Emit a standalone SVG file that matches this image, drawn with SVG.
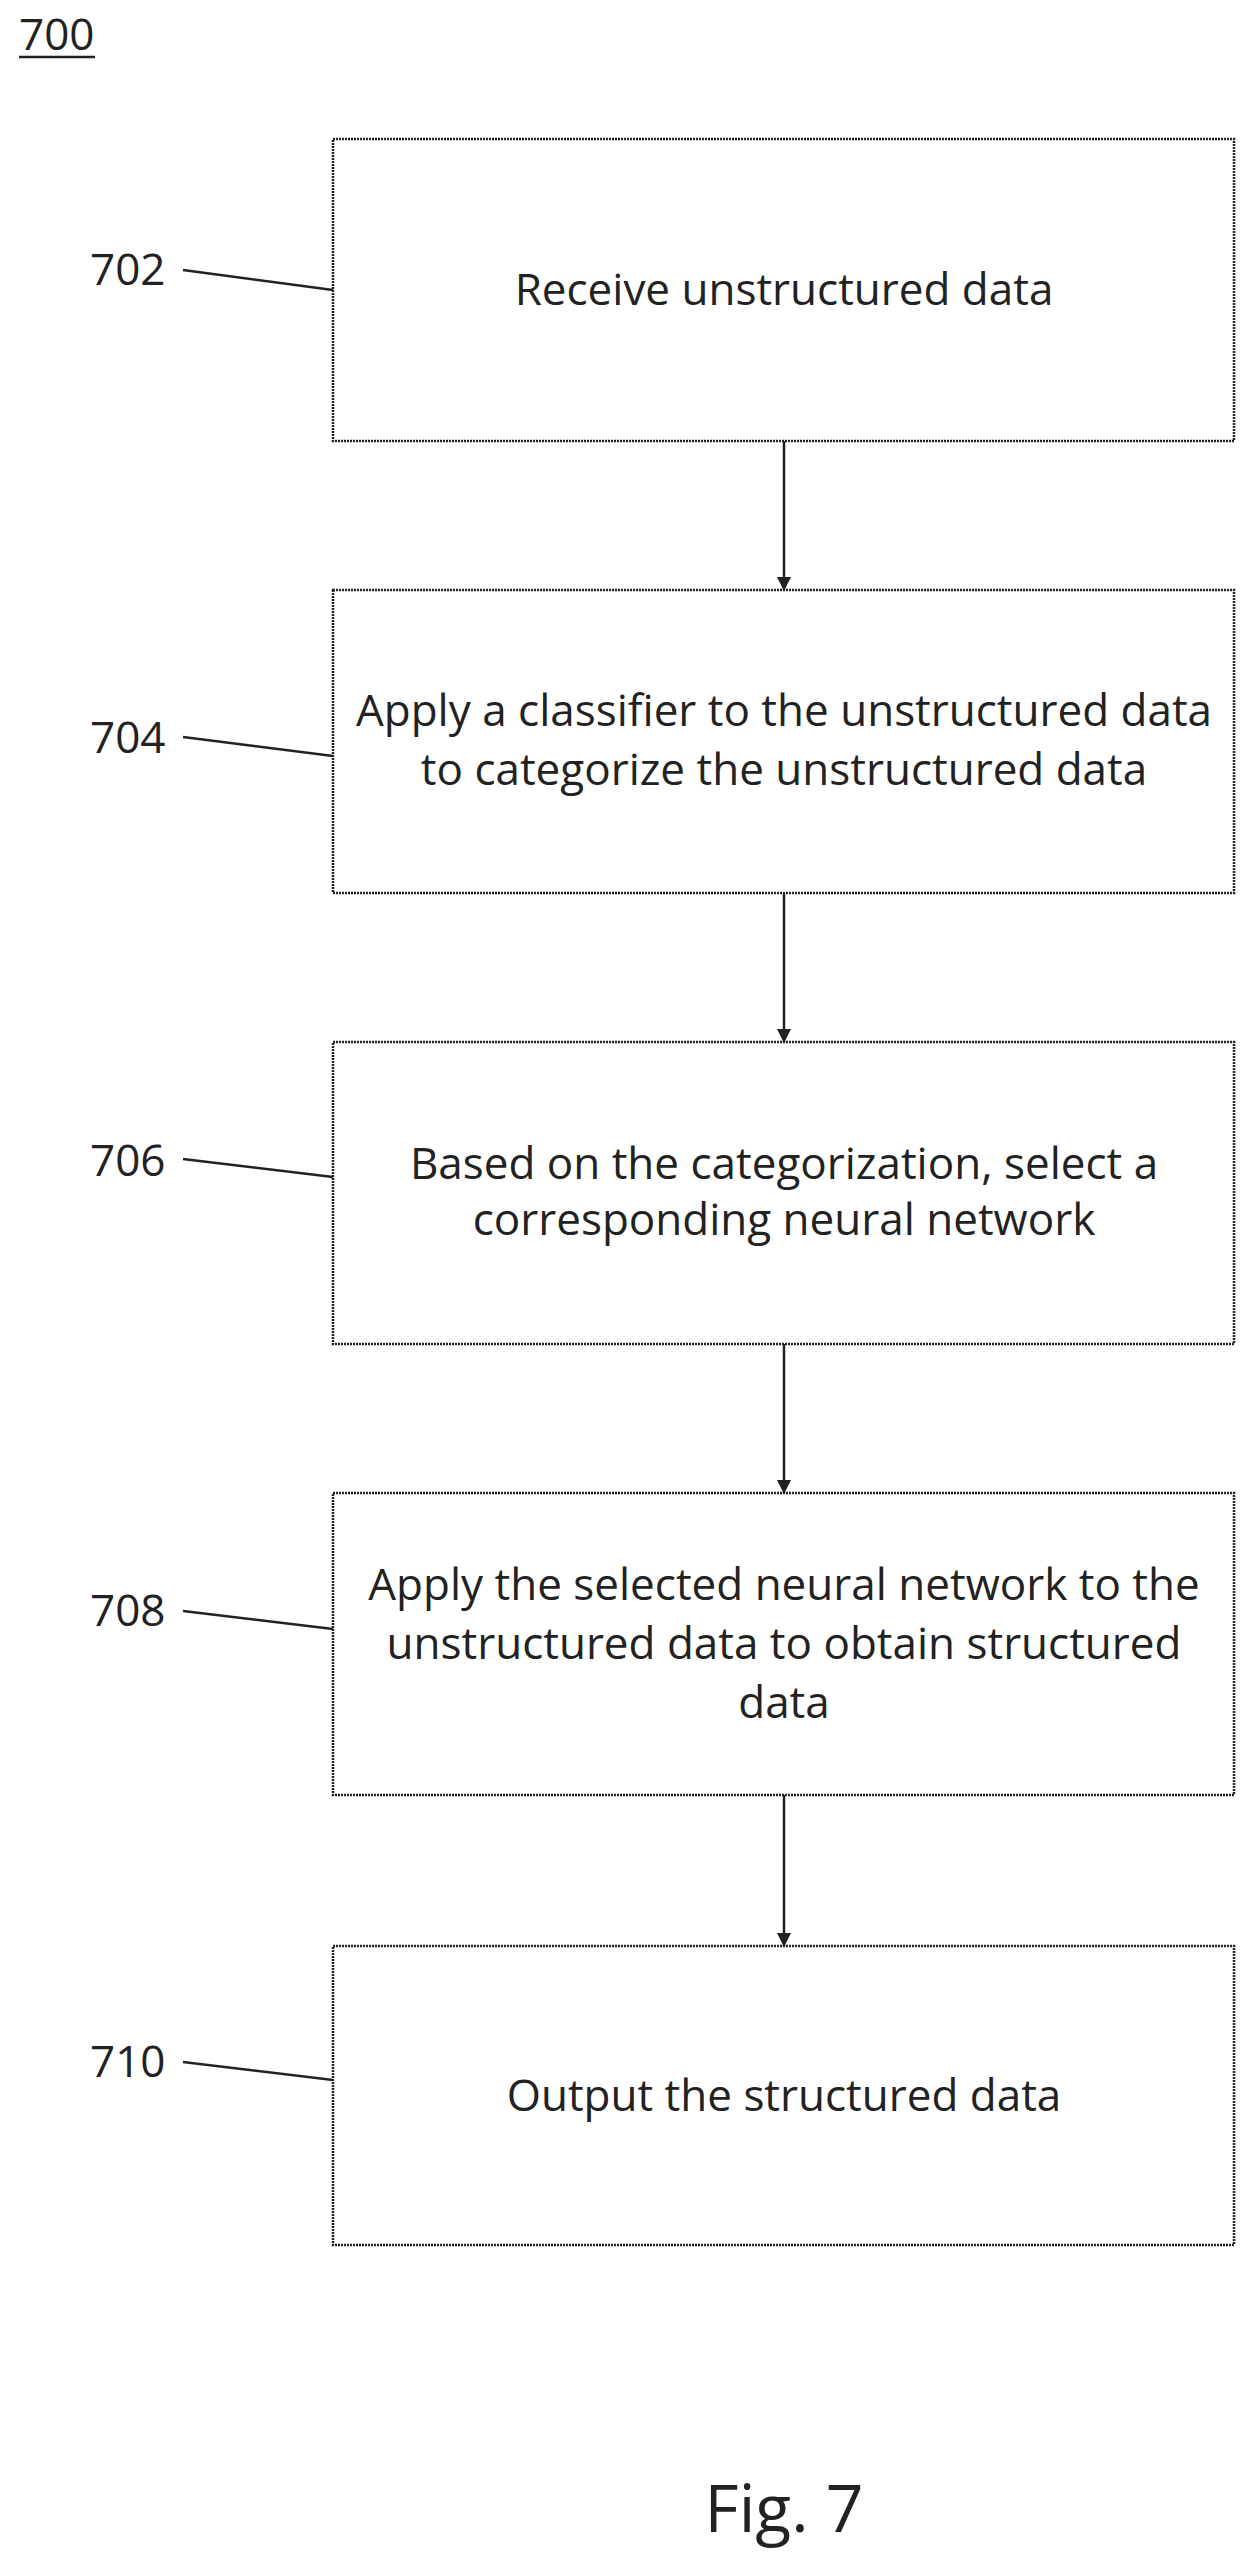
<svg xmlns="http://www.w3.org/2000/svg" width="1255" height="2562" viewBox="0 0 1255 2562">
<style>
.b{fill:none;stroke:#222;stroke-width:2.5;stroke-dasharray:2 1}
.t{font-family:"Open Sans","Liberation Sans",sans-serif;font-size:44px;fill:#222;text-anchor:middle}
.n{font-family:"Open Sans","Liberation Sans",sans-serif;font-size:44px;fill:#222}
.c{stroke:#222;stroke-width:2.5;fill:none}
</style>
<defs><marker id="a" markerWidth="14" markerHeight="14" refX="13" refY="7" orient="auto" markerUnits="userSpaceOnUse" viewBox="0 0 14 14"><path d="M0,0 L14,7 L0,14 z" fill="#222"/></marker></defs>
<rect width="1255" height="2562" fill="#fff"/>
<text class="n" x="19" y="50">700</text>
<line x1="19" y1="57" x2="95" y2="57" class="c" stroke-width="2"/>
<g id="n702"><rect class="b" x="333" y="139" width="901" height="302"/><text class="t" x="784" y="305">Receive unstructured data</text><text class="n" x="90" y="285">702</text></g>
<g id="n704"><rect class="b" x="333" y="590" width="901" height="303"/><text class="t" x="784" y="726">Apply a classifier to the unstructured data</text><text class="t" x="784" y="785">to categorize the unstructured data</text><text class="n" x="90" y="753">704</text></g>
<g id="n706"><rect class="b" x="333" y="1042" width="901" height="302"/><text class="t" x="784" y="1179">Based on the categorization, select a</text><text class="t" x="784" y="1235">corresponding neural network</text><text class="n" x="90" y="1176">706</text></g>
<g id="n708"><rect class="b" x="333" y="1493" width="901" height="302"/><text class="t" x="784" y="1600">Apply the selected neural network to the</text><text class="t" x="784" y="1659">unstructured data to obtain structured</text><text class="t" x="784" y="1718">data</text><text class="n" x="90" y="1626">708</text></g>
<g id="n710"><rect class="b" x="333" y="1946" width="901" height="299"/><text class="t" x="784" y="2111">Output the structured data</text><text class="n" x="90" y="2077">710</text></g>
<g id="connectors">
<line class="c" x1="784" y1="441" x2="784" y2="590" marker-end="url(#a)"/>
<line class="c" x1="784" y1="893" x2="784" y2="1042" marker-end="url(#a)"/>
<line class="c" x1="784" y1="1344" x2="784" y2="1493" marker-end="url(#a)"/>
<line class="c" x1="784" y1="1795" x2="784" y2="1946" marker-end="url(#a)"/>
<line class="c" x1="183" y1="270" x2="333" y2="290"/>
<line class="c" x1="183" y1="737" x2="333" y2="756"/>
<line class="c" x1="183" y1="1159" x2="333" y2="1177"/>
<line class="c" x1="183" y1="1611" x2="333" y2="1629"/>
<line class="c" x1="183" y1="2062" x2="333" y2="2080"/>
</g>
<text class="t" x="784" y="2532" style="font-size:66px">Fig. 7</text>
</svg>
